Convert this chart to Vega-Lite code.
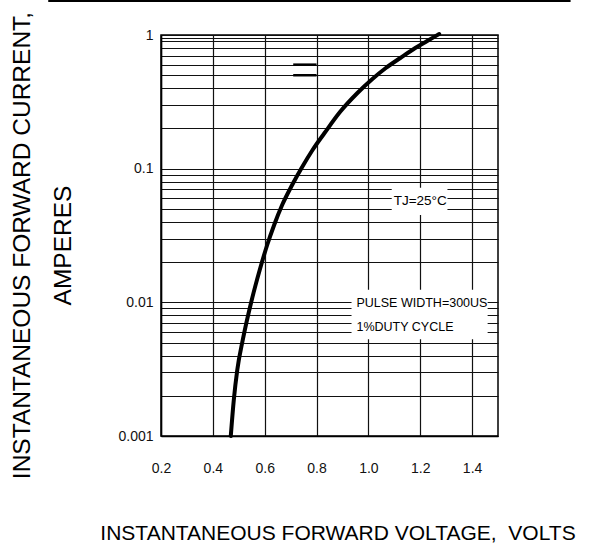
{
  "$schema": "https://vega.github.io/schema/vega-lite/v6.json",
  "width": 337,
  "height": 401,
  "autosize": {"type": "none"},
  "padding": {"left": 161, "top": 35, "right": 116, "bottom": 107},
  "background": "white",
  "config": {
    "view": {"stroke": "#000", "strokeWidth": 1.5},
    "font": "Liberation Sans"
  },
  "datasets": {
    "curve": [
      {"x": 0.4692, "y": 0.001},
      {"x": 0.4808, "y": 0.001859},
      {"x": 0.4942, "y": 0.003117},
      {"x": 0.5154, "y": 0.005228},
      {"x": 0.5481, "y": 0.010058},
      {"x": 0.5808, "y": 0.017451},
      {"x": 0.6096, "y": 0.026847},
      {"x": 0.6365, "y": 0.037907},
      {"x": 0.6673, "y": 0.053482},
      {"x": 0.7058, "y": 0.075463},
      {"x": 0.7423, "y": 0.10116},
      {"x": 0.7846, "y": 0.13792},
      {"x": 0.8308, "y": 0.18482},
      {"x": 0.8904, "y": 0.26546},
      {"x": 0.9577, "y": 0.36824},
      {"x": 1.0154, "y": 0.46866},
      {"x": 1.0673, "y": 0.56638},
      {"x": 1.1231, "y": 0.67293},
      {"x": 1.1808, "y": 0.79931},
      {"x": 1.2269, "y": 0.90191},
      {"x": 1.2731, "y": 1.0174}
    ],
    "boxes": [
      {"x": 1.09, "x2": 1.305, "y": 0.072, "y2": 0.045},
      {"x": 0.935, "x2": 1.46, "y": 0.0124, "y2": 0.0053}
    ],
    "centerNotes": [
      {"label": "TJ=25°C", "x": 1.2, "y": 0.057}
    ],
    "leftNotes": [
      {"label": "PULSE WIDTH=300US", "x": 0.954, "y": 0.0099},
      {"label": "1%DUTY CYCLE", "x": 0.954, "y": 0.00655}
    ],
    "dashes": [
      {"x": 0.71, "x2": 0.8, "y": 0.6},
      {"x": 0.71, "x2": 0.8, "y": 0.5}
    ],
    "topline": [
      {"x": -0.235, "x2": 1.78, "y": 1.8}
    ]
  },
  "layer": [
    {
      "data": {"name": "boxes"},
      "mark": {"type": "rect", "fill": "white", "stroke": null},
      "encoding": {
        "x": {"field": "x", "type": "quantitative"},
        "x2": {"field": "x2"},
        "y": {"field": "y", "type": "quantitative"},
        "y2": {"field": "y2"}
      }
    },
    {
      "data": {"name": "curve"},
      "mark": {"type": "line", "color": "#000", "strokeWidth": 4, "interpolate": "monotone", "strokeCap": "round"},
      "encoding": {
        "x": {
          "field": "x", "type": "quantitative",
          "scale": {"domain": [0.2, 1.5], "nice": false, "zero": false},
          "axis": {
            "values": [0.2, 0.4, 0.6, 0.8, 1.0, 1.2, 1.4],
            "format": ".1f",
            "grid": true, "gridColor": "#111", "gridWidth": 1.2, "gridOpacity": 1,
            "ticks": false, "domain": true, "domainColor": "#000", "domainWidth": 1.5,
            "labelFontSize": 14, "labelColor": "#111", "labelPadding": 25,
            "labelFlush": false, "labelOverlap": false,
            "title": "INSTANTANEOUS FORWARD VOLTAGE,\u00a0 VOLTS",
            "titleFontSize": 21, "titleFontWeight": "normal", "titleColor": "#000",
            "titleX": 176.5, "titleY": 103, "titleAlign": "center", "titleBaseline": "alphabetic"
          }
        },
        "y": {
          "field": "y", "type": "quantitative",
          "scale": {"type": "log", "domain": [0.001, 1], "nice": false},
          "axis": {
            "values": [0.001, 0.002, 0.003, 0.004, 0.005, 0.006, 0.007, 0.008, 0.009,
                       0.01, 0.02, 0.03, 0.04, 0.05, 0.06, 0.07, 0.08, 0.09,
                       0.1, 0.2, 0.3, 0.4, 0.5, 0.6, 0.7, 0.8, 0.9, 0.95, 1],
            "format": "~g",
            "labelExpr": "datum.value == 1 || datum.value == 0.1 || datum.value == 0.01 || datum.value == 0.001 ? datum.label : ''",
            "grid": true, "gridColor": "#111", "gridWidth": 1.2, "gridOpacity": 1,
            "ticks": false, "domain": true, "domainColor": "#000", "domainWidth": 1.5,
            "labelFontSize": 14, "labelColor": "#111", "labelPadding": 8, "labelOverlap": false,
            "title": ["INSTANTANEOUS FORWARD CURRENT,", "AMPERES"],
            "titleFontSize": 24.5, "titleFontWeight": "normal", "titleColor": "#000",
            "titleAngle": -90, "titleX": -139, "titleY": 210, "titleAlign": "center",
            "titleBaseline": "middle", "titleLineHeight": 41
          }
        }
      }
    },
    {
      "data": {"name": "centerNotes"},
      "mark": {"type": "text", "fontSize": 13.5, "baseline": "middle", "align": "center", "color": "#000"},
      "encoding": {
        "x": {"field": "x", "type": "quantitative"},
        "y": {"field": "y", "type": "quantitative"},
        "text": {"field": "label"}
      }
    },
    {
      "data": {"name": "leftNotes"},
      "mark": {"type": "text", "fontSize": 12.5, "baseline": "middle", "align": "left", "color": "#000"},
      "encoding": {
        "x": {"field": "x", "type": "quantitative"},
        "y": {"field": "y", "type": "quantitative"},
        "text": {"field": "label"}
      }
    },
    {
      "data": {"name": "dashes"},
      "mark": {"type": "rule", "color": "#000", "strokeWidth": 2.5},
      "encoding": {
        "x": {"field": "x", "type": "quantitative"},
        "x2": {"field": "x2"},
        "y": {"field": "y", "type": "quantitative"}
      }
    },
    {
      "data": {"name": "topline"},
      "mark": {"type": "rule", "color": "#000", "strokeWidth": 2, "clip": false},
      "encoding": {
        "x": {"field": "x", "type": "quantitative"},
        "x2": {"field": "x2"},
        "y": {"field": "y", "type": "quantitative"}
      }
    }
  ]
}
